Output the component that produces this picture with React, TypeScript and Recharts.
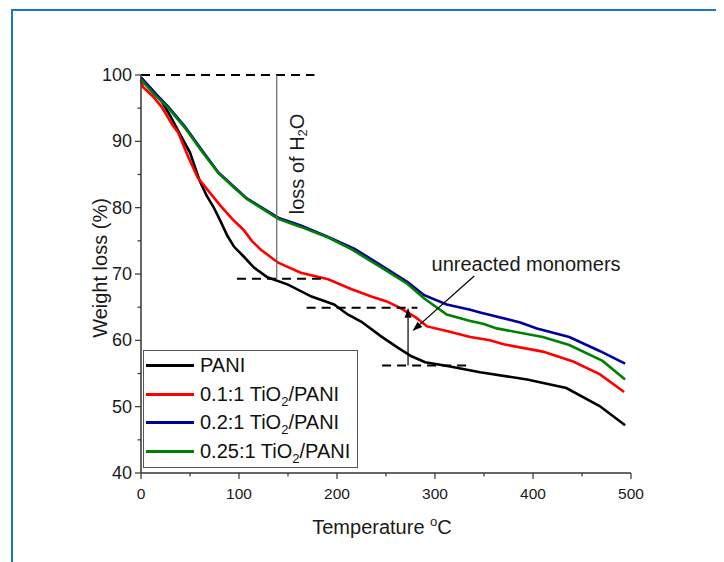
import React from "react";
import {
  Legend,
  Line,
  LineChart,
  ReferenceDot,
  ReferenceLine,
  XAxis,
  YAxis,
} from "recharts";

// TGA curves: temperature (°C) vs weight (%)
const paniT = [0, 10, 20, 30, 40, 50, 60, 67, 74, 81, 88, 95, 105, 115, 129, 150, 174, 197, 211, 225, 245, 262, 276, 290, 314, 346, 394, 434, 468, 494];
const paniW = [99.6, 98.0, 96.3, 93.8, 91.0, 88.3, 84.0, 81.8, 80.1, 78.0, 75.8, 74.1, 72.6, 71.0, 69.5, 68.4, 66.6, 65.4, 63.9, 62.8, 60.6, 58.9, 57.6, 56.7, 56.1, 55.2, 54.1, 52.8, 50.1, 47.2];

const tio01T = [0, 2, 12, 21, 32, 38, 48, 58, 70, 81, 93, 105, 113, 122, 140, 163, 191, 215, 235, 250, 263, 280, 292, 312, 336, 356, 370, 410, 441, 468, 493];
const tio01W = [99.3, 98.2, 96.8, 95.2, 92.5, 91.3, 87.7, 84.5, 82.3, 80.3, 78.3, 76.6, 75.0, 73.7, 71.7, 70.2, 69.2, 67.7, 66.6, 65.9, 65.0, 63.5, 62.1, 61.4, 60.5, 60.0, 59.4, 58.3, 56.8, 54.9, 52.2];

const tio02T = [0, 14, 28, 45, 62, 79, 96, 108, 120, 140, 163, 191, 218, 245, 272, 289, 312, 336, 346, 387, 404, 437, 468, 494];
const tio02W = [99.6, 97.3, 95.2, 92.2, 88.7, 85.3, 83.0, 81.4, 80.3, 78.5, 77.3, 75.6, 73.8, 71.3, 68.8, 66.8, 65.4, 64.6, 64.2, 62.7, 61.8, 60.5, 58.4, 56.5];

const tio025T = [0, 14, 28, 45, 62, 79, 96, 108, 120, 140, 163, 191, 215, 245, 272, 289, 312, 336, 349, 363, 410, 437, 471, 494];
const tio025W = [99.3, 97.0, 95.0, 92.0, 88.5, 85.2, 82.9, 81.3, 80.2, 78.3, 77.1, 75.5, 73.7, 71.0, 68.5, 66.3, 63.9, 62.9, 62.5, 61.8, 60.5, 59.3, 56.9, 54.1];

const seriesNames = ["PANI", "0.1:1 TiO2/PANI", "0.2:1 TiO2/PANI", "0.25:1 TiO2/PANI"];
const seriesColors = ["#000000", "#ff0000", "#00009f", "#008000"];

const xTicks = [0, 50, 100, 150, 200, 250, 300, 350, 400, 450, 500];
const yTicks = [40, 45, 50, 55, 60, 65, 70, 75, 80, 85, 90, 95, 100];

const zip = (t: number[], w: number[]) => t.map((v, i) => ({ t: v, w: w[i] }));

const series = [
  zip(paniT, paniW),
  zip(tio01T, tio01W),
  zip(tio02T, tio02W),
  zip(tio025T, tio025W),
];

const FONT = "'Liberation Sans', Arial, sans-serif";
const AXIS = "#333";

function withSub(label: string) {
  const parts = label.split("TiO2");
  if (parts.length < 2) return label;
  return (
    <>
      {parts[0]}TiO
      <span style={{ fontSize: 13, verticalAlign: -5, lineHeight: 0 }}>2</span>
      {parts[1]}
    </>
  );
}

function XTick(props: any) {
  const { x, y, payload } = props;
  const major = payload.value % 100 === 0;
  return (
    <g>
      <line x1={x} x2={x} y1={y} y2={y + (major ? 6 : 3.5)} stroke={AXIS} strokeWidth={1.2} />
      {major && (
        <text x={x} y={y + 26} textAnchor="middle" fontSize={15.5} fill="#1a1a1a" fontFamily={FONT}>
          {payload.value}
        </text>
      )}
    </g>
  );
}

function YTick(props: any) {
  const { x, y, payload } = props;
  const major = payload.value % 10 === 0;
  return (
    <g>
      <line x1={x - (major ? 6 : 3.5)} x2={x} y1={y} y2={y} stroke={AXIS} strokeWidth={1.2} />
      {major && (
        <text x={x - 9} y={y} dy={6} textAnchor="end" fontSize={18} fill="#1a1a1a" fontFamily={FONT}>
          {payload.value}
        </text>
      )}
    </g>
  );
}

function Arrow(props: any) {
  const { x1, y1, x2, y2 } = props;
  const a = Math.atan2(y2 - y1, x2 - x1);
  const len = 10;
  const half = 3.5;
  const bx = x2 - len * Math.cos(a);
  const by = y2 - len * Math.sin(a);
  const pts = [
    `${x2},${y2}`,
    `${bx - half * Math.sin(a)},${by + half * Math.cos(a)}`,
    `${bx + half * Math.sin(a)},${by - half * Math.cos(a)}`,
  ].join(" ");
  return (
    <g>
      <line x1={x1} y1={y1} x2={bx} y2={by} stroke="#000" strokeWidth={1.2} />
      <polygon points={pts} fill="#000" />
    </g>
  );
}

function LegendBox() {
  return (
    <div
      style={{
        width: 215,
        height: 118,
        boxSizing: "border-box",
        border: "1px solid #555",
        background: "#fff",
        fontFamily: FONT,
        fontSize: 20,
        color: "#111",
      }}
    >
      {seriesNames.map((n, i) => (
        <div key={n} style={{ display: "flex", alignItems: "center", height: 28.7 }}>
          <div style={{ width: 48, height: 3, background: seriesColors[i], marginLeft: 2, marginRight: 6 }} />
          <span style={{ whiteSpace: "nowrap" }}>{withSub(n)}</span>
        </div>
      ))}
    </div>
  );
}

const dash = { stroke: "#000", strokeWidth: 2, strokeDasharray: "9 6" };

export default function App() {
  return (
    <div style={{ position: "relative", width: 716, height: 554, fontFamily: FONT }}>
      <div
        style={{
          position: "absolute",
          left: 3,
          top: 1,
          width: 713,
          height: 553,
          borderLeft: "2px solid #1a78cc",
          borderTop: "2px solid #1a78cc",
        }}
      />
      <LineChart width={716} height={554} margin={{ top: 67, right: 93, bottom: 49, left: 73 }}>
        <XAxis
          dataKey="t"
          type="number"
          domain={[0, 500]}
          ticks={xTicks}
          interval={0}
          height={40}
          tickSize={0}
          tickMargin={0}
          tickLine={false}
          tick={<XTick />}
          axisLine={{ stroke: AXIS, strokeWidth: 1.5 }}
          label={{
            content: (p: any) => {
              const vb = p.viewBox;
              return (
                <text x={vb.x + vb.width / 2 - 4} y={vb.y + 61} textAnchor="middle" fontSize={20} fill="#1a1a1a" fontFamily={FONT}>
                  Temperature <tspan dy={-8} fontSize={13}>o</tspan>
                  <tspan dy={8}>C</tspan>
                </text>
              );
            },
          }}
        />
        <YAxis
          type="number"
          domain={[40, 100]}
          ticks={yTicks}
          interval={0}
          width={60}
          tickSize={0}
          tickMargin={0}
          tickLine={false}
          tick={<YTick />}
          axisLine={{ stroke: AXIS, strokeWidth: 1.5 }}
          label={{
            content: (p: any) => {
              const vb = p.viewBox;
              const cx = vb.x + vb.width - 41;
              const cy = vb.y + vb.height / 2 - 6;
              return (
                <text
                  x={cx}
                  y={cy}
                  transform={`rotate(-90 ${cx} ${cy})`}
                  textAnchor="middle"
                  dominantBaseline="central"
                  fontSize={20}
                  fill="#1a1a1a"
                  fontFamily={FONT}
                >
                  Weight loss (%)
                </text>
              );
            },
          }}
        />

        {series.map((d, i) => (
          <Line
            key={seriesNames[i]}
            data={d}
            dataKey="w"
            name={seriesNames[i]}
            type="linear"
            stroke={seriesColors[i]}
            strokeWidth={2.6}
            dot={false}
            activeDot={false}
            isAnimationActive={false}
          />
        ))}

        {/* loss of water */}
        <ReferenceLine segment={[{ x: 0, y: 100 }, { x: 177, y: 100 }]} {...dash} />
        <ReferenceLine segment={[{ x: 98, y: 69.3 }, { x: 186, y: 69.3 }]} {...dash} />
        <ReferenceLine segment={[{ x: 138.5, y: 100 }, { x: 138.5, y: 69.3 }]} stroke="#666" strokeWidth={1.2} />
        <ReferenceDot
          x={159}
          y={86.6}
          r={0}
          shape={(p: any) => (
            <text
              x={p.cx}
              y={p.cy}
              transform={`rotate(-90 ${p.cx} ${p.cy})`}
              textAnchor="middle"
              dominantBaseline="central"
              fontSize={20}
              fill="#1a1a1a"
              fontFamily={FONT}
            >
              loss of H<tspan dy={5} fontSize={13}>2</tspan>
              <tspan dy={-5}>O</tspan>
            </text>
          )}
        />

        {/* unreacted monomers */}
        <ReferenceLine segment={[{ x: 169, y: 64.9 }, { x: 282, y: 64.9 }]} {...dash} />
        <ReferenceLine segment={[{ x: 246, y: 56.2 }, { x: 334, y: 56.2 }]} {...dash} />
        <ReferenceLine segment={[{ x: 272.5, y: 56.2 }, { x: 272.5, y: 64.9 }]} shape={<Arrow />} />
        <ReferenceLine segment={[{ x: 340, y: 69.7 }, { x: 277, y: 61.4 }]} shape={<Arrow />} />
        <ReferenceDot
          x={296.5}
          y={71.3}
          r={0}
          shape={(p: any) => (
            <text x={p.cx} y={p.cy} dy={6} textAnchor="start" fontSize={20} fill="#1a1a1a" fontFamily={FONT}>
              unreacted monomers
            </text>
          )}
        />

        <Legend
          layout="vertical"
          align="center"
          verticalAlign="middle"
          content={() => <LegendBox />}
          wrapperStyle={{ left: 135, top: 342, width: 215, height: 118 }}
        />
      </LineChart>
    </div>
  );
}
